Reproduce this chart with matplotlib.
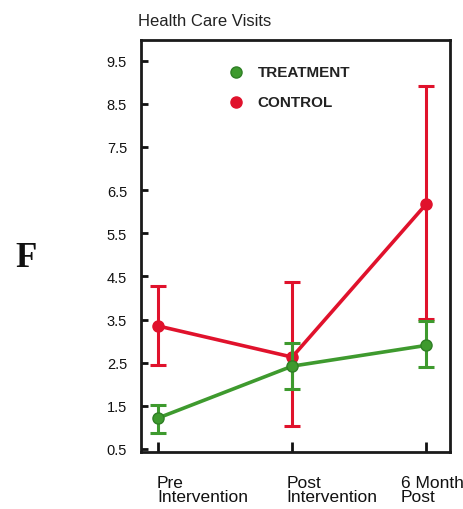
import matplotlib
matplotlib.use("Agg")
import matplotlib.pyplot as plt
import numpy as np

plt.rcParams["font.family"] = ["Liberation Sans", "DejaVu Sans"]

categories = ["Pre\nIntervention", "Post\nIntervention", "6 Month\nPost"]
treatment = [1.22, 2.42, 2.90]
treatment_low = [0.87, 1.88, 2.41]
treatment_high = [1.52, 2.96, 3.47]
control = [3.35, 2.63, 6.17]
control_low = [2.45, 1.03, 3.52]
control_high = [4.28, 4.37, 8.92]
yticks = [0.5, 1.5, 2.5, 3.5, 4.5, 5.5, 6.5, 7.5, 8.5, 9.5]

red = "#e0122c"
green = "#3e9a2e"

fig = plt.figure(figsize=(4.64, 5.10), dpi=100)
ax = fig.add_axes([141/464, 1 - 453/510, (450-141)/464, (453-41)/510])

x = np.arange(len(categories))
c = np.array(control)
t = np.array(treatment)
ax.errorbar(x, c, yerr=[c - np.array(control_low), np.array(control_high) - c],
            color=red, lw=2.6, marker="o", ms=8, elinewidth=2.2, capsize=5.5,
            capthick=2.2, zorder=2)
ax.errorbar(x, t, yerr=[t - np.array(treatment_low), np.array(treatment_high) - t],
            color=green, mec="#2f7f25", lw=2.6, marker="o", ms=8, elinewidth=2.2,
            capsize=5.5, capthick=2.2, zorder=3)

ax.set_xlim(-0.13, 2.18)
ax.set_ylim(0.43, 9.98)
ax.set_yticks(yticks)
ax.set_yticklabels([f"{v:.1f}" for v in yticks])
ax.set_xticks(x)
ax.set_xticklabels([])
label_dx = [-1, -4, -18]  # offsets in points
for xi, lab, dx in zip(x, categories, label_dx):
    ax.annotate(lab, xy=(xi, 0), xycoords=("data", "axes fraction"),
                xytext=(dx, -16.5), textcoords="offset points",
                ha="left", va="top", fontsize=12.5, linespacing=0.95,
                annotation_clip=False, color="#111111")

ax.tick_params(axis="both", direction="in", length=5, width=2, labelsize=10.5,
               colors="#111111")
ax.tick_params(axis="x", length=7)
ax.tick_params(axis="y", pad=10)
for s in ax.spines.values():
    s.set_linewidth(2)
    s.set_color("#1a1a1a")

# legend
ax.plot([0.58], [9.23], "o", color=green, mec="#2f7f25", ms=8, clip_on=False)
ax.text(0.74, 9.23, "TREATMENT", fontsize=11, fontweight="bold", va="center",
        color="#222222")
ax.plot([0.58], [8.54], "o", color=red, ms=8, clip_on=False)
ax.text(0.74, 8.54, "CONTROL", fontsize=11, fontweight="bold", va="center",
        color="#222222")

fig.text(138/464, 1 - 21/510, "Health Care Visits", fontsize=12,
         ha="left", va="center", color="#222222")
fig.text(26/464, 1 - 259/510, "F", fontsize=25, fontweight="bold",
         family="Liberation Serif", ha="center", va="center", color="#111111")

fig.savefig("out.png", dpi=100)
